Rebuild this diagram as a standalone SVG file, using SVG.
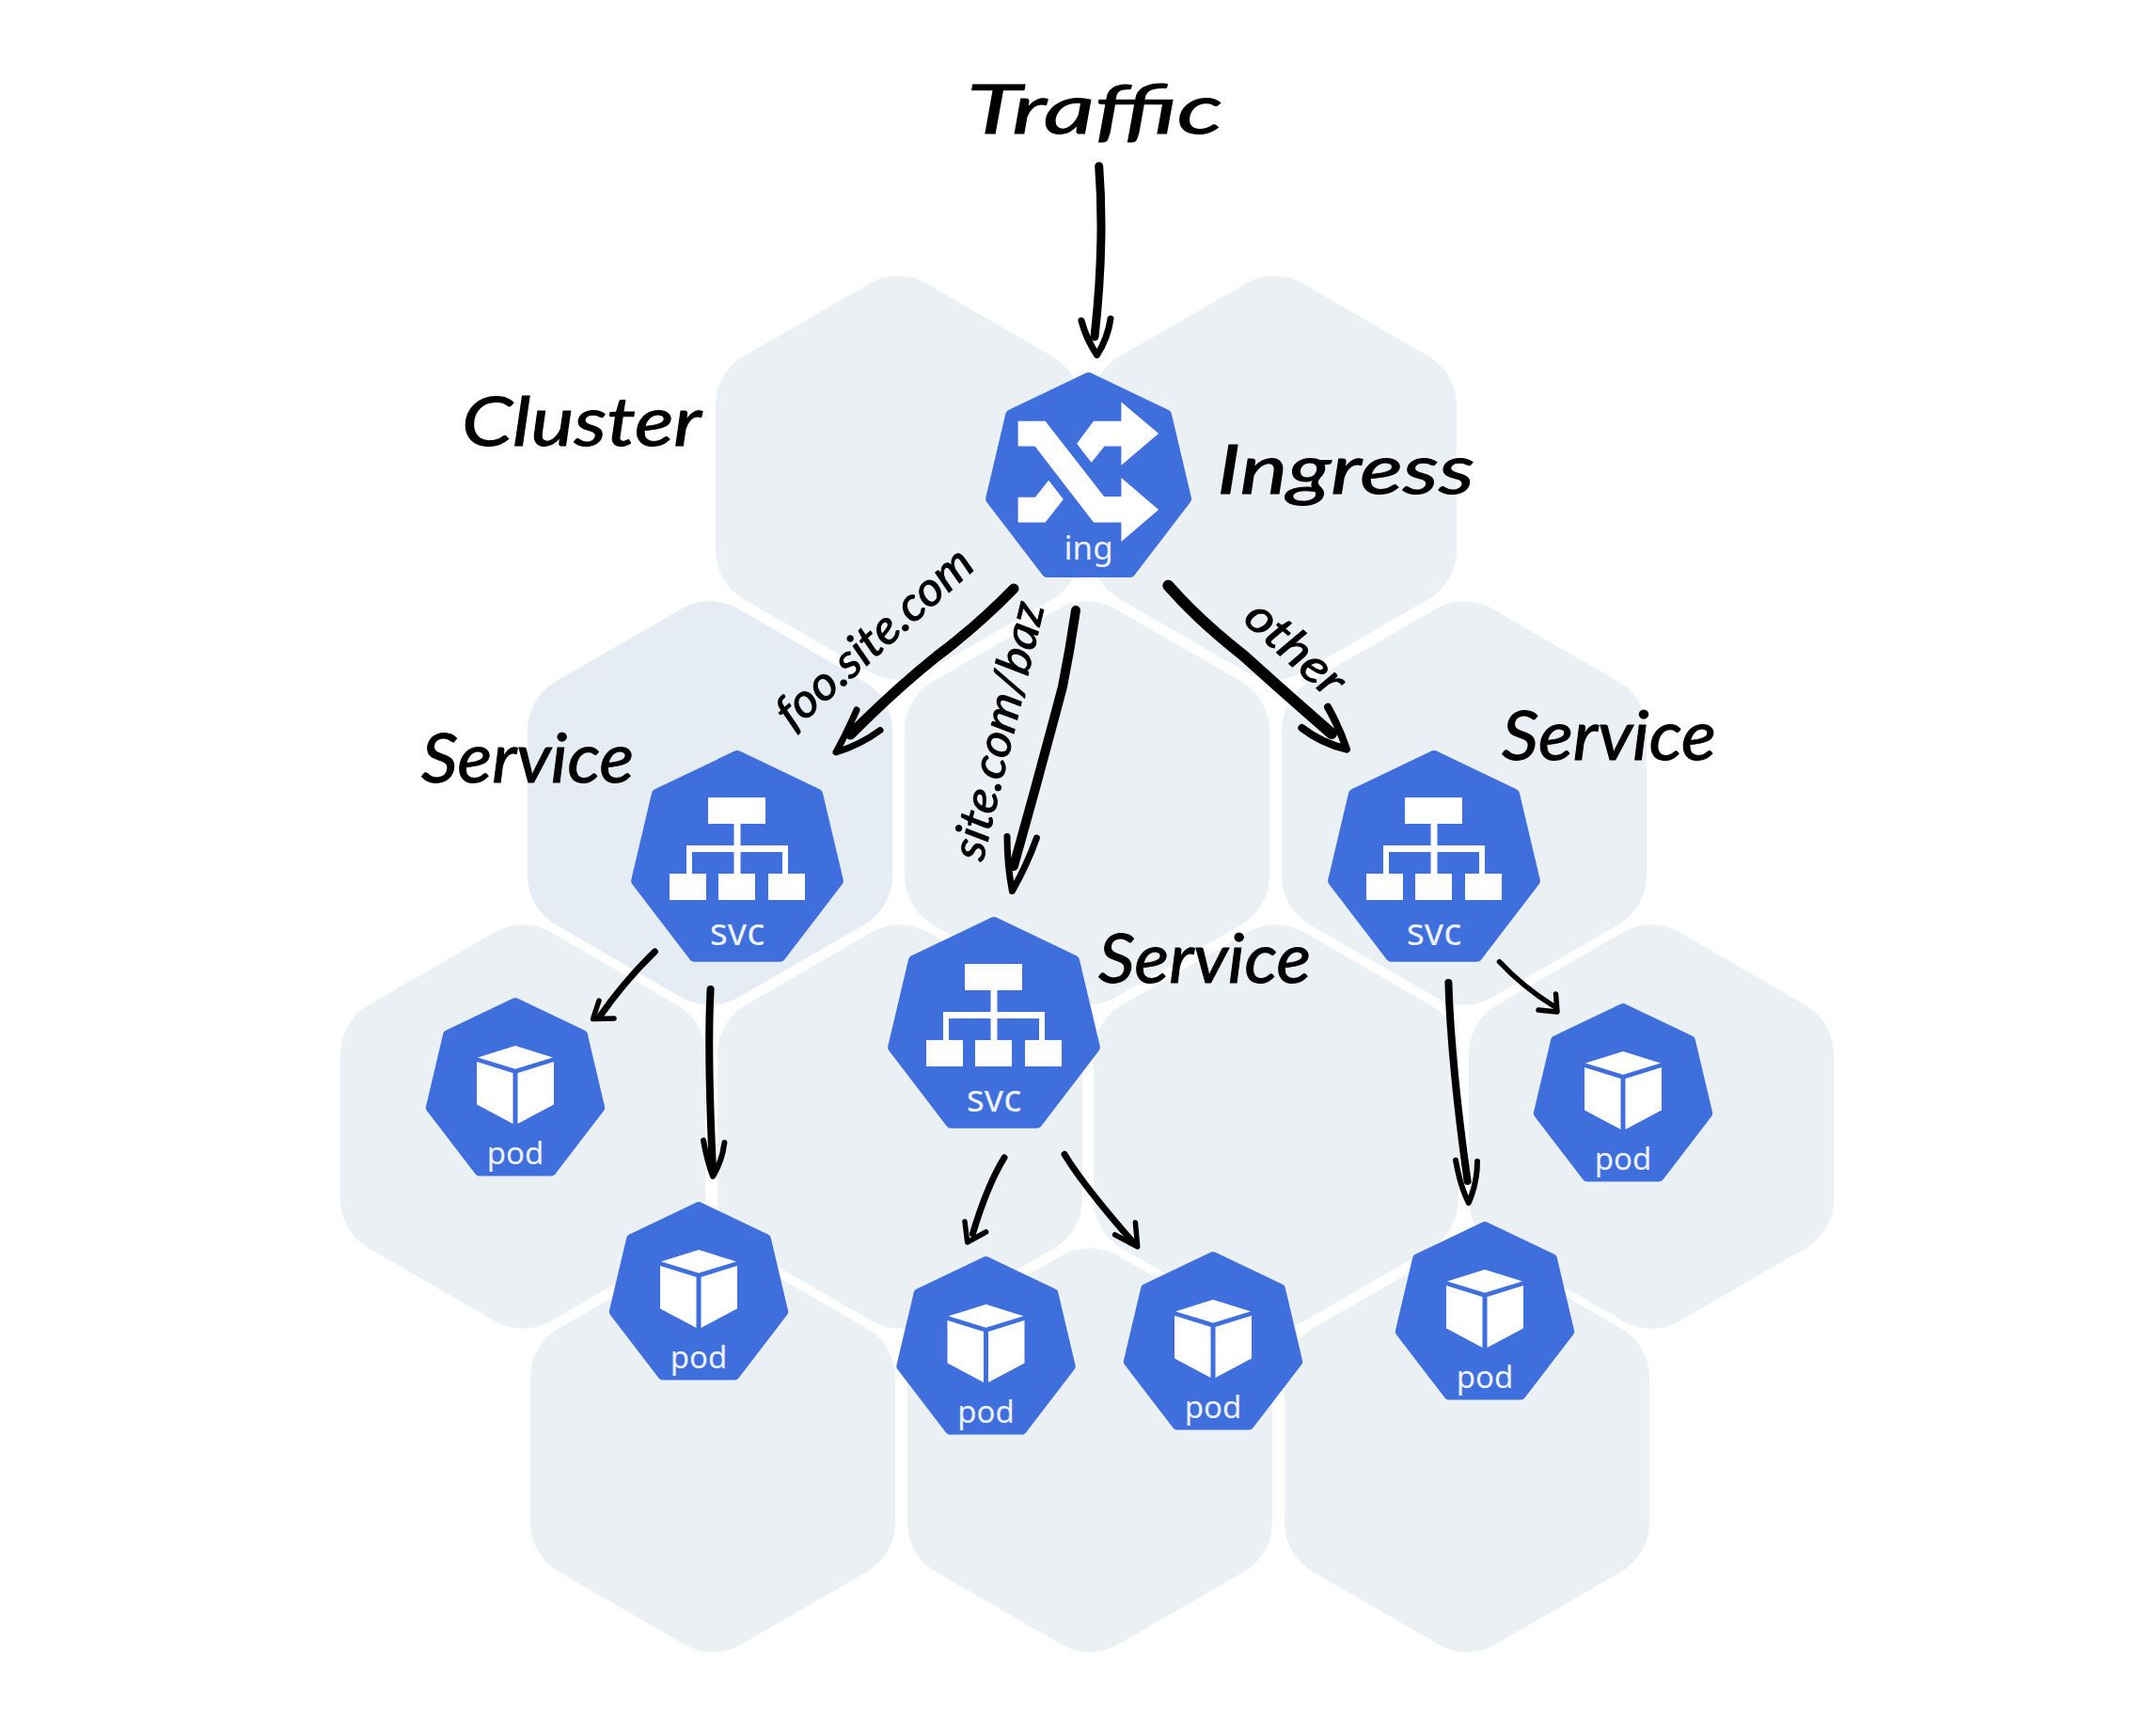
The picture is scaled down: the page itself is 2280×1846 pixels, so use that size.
<svg xmlns="http://www.w3.org/2000/svg" width="2280" height="1846" viewBox="0 0 2280 1846">
<style>
.hex{fill:#ebf0f5}
.hept{fill:#3f6edd;stroke:#3f6edd;stroke-width:12;stroke-linejoin:round}
.ico{fill:#fff}
.lbl{font-family:"Noto Sans",sans-serif;fill:#eef2fc;text-anchor:middle}
.svc{font-size:40px}
.pod{font-size:33px}
.hand{font-family:"Lato","Liberation Sans",sans-serif;font-style:italic;font-weight:400;fill:#000;stroke:#000;stroke-width:1}
.conn path{fill:none;stroke:#000;stroke-linecap:round;stroke-linejoin:round}
.a{stroke-width:9}.b{stroke-width:7}.c{stroke-width:5.500}
</style>
<defs>
<path id="hx" d="M30.300-206.500A60 60 0 0 0-30.300-206.500L-163.700-129.500A60 60 0 0 0-194-77V77A60 60 0 0 0-163.700 129.500L-30.300 206.500A60 60 0 0 0 30.300 206.500L163.700 129.500A60 60 0 0 0 194 77V-77A60 60 0 0 0 163.700-129.500Z"/>
<polygon id="hp" points="0,6 86,47 108,140 46,221 -46,221 -108,140 -86,47"/>
<g id="svcicon">
<rect x="-31" y="50" width="61" height="28"/>
<rect x="-3.500" y="78" width="7" height="53"/>
<path d="M-54 131V101H54V131H48V108H-48V131Z"/>
<rect x="-72" y="131" width="39" height="28"/><rect x="-20" y="131" width="39" height="28"/><rect x="33" y="131" width="39" height="28"/>
</g>
<g id="podicon">
<polygon points="0,51 40,63.500 0,75.700 -40,63.500"/>
<polygon points="-41,68 -2.500,80 -2.500,134 -41,113.500"/>
<polygon points="41,68 2.500,80 2.500,134 41,113.500"/>
</g>
</defs>
<rect width="2280" height="1846" fill="#fff"/>
<g id="cluster">
<use href="#hx" class="hex" x="955" y="508"/>
<use href="#hx" class="hex" x="1355" y="508"/>
<use href="#hx" style="fill:#e5ecf3" x="755" y="854"/>
<use href="#hx" class="hex" x="1156" y="854"/>
<use href="#hx" class="hex" x="1557" y="854"/>
<use href="#hx" class="hex" x="556" y="1198"/>
<use href="#hx" class="hex" x="957" y="1198"/>
<use href="#hx" class="hex" x="1357" y="1198"/>
<use href="#hx" class="hex" x="1756" y="1198"/>
<use href="#hx" class="hex" x="758" y="1542"/>
<use href="#hx" class="hex" x="1159" y="1542"/>
<use href="#hx" class="hex" x="1560" y="1542"/>
</g>
<g id="ingress" transform="translate(1157.600 396)">
<use href="#hp" class="hept" transform="scale(.96)"/>
<polygon class="ico" points="-75,51.700 -46,51.700 16.500,132 34.800,132 34.800,112 74.500,146 34.800,180 34.800,159.600 5.400,159.600 -57,78.500 -75,78.500"/>
<polygon class="ico" points="-12.500,75.800 5.400,51.700 34.800,51.700 34.800,31.400 74.500,65 34.800,98.700 34.800,78.500 17,78.500 3,95.700"/>
<polygon class="ico" points="-75,132.800 -56.700,132.800 -42.400,114.800 -26.800,135 -46,159.600 -75,159.600"/>
<text class="lbl" x="0" y="199" font-size="35">ing</text>
</g>
<g id="service-1" transform="translate(784 798)"><use href="#hp" class="hept" transform="scale(.99)"/><use href="#svcicon" class="ico"/><text class="lbl svc" y="207">svc</text></g>
<g id="service-2" transform="translate(1057 975)"><use href="#hp" class="hept" transform="scale(.99)"/><use href="#svcicon" class="ico"/><text class="lbl svc" y="207">svc</text></g>
<g id="service-3" transform="translate(1525 798)"><use href="#hp" class="hept" transform="scale(.99)"/><use href="#svcicon" class="ico"/><text class="lbl svc" y="207">svc</text></g>
<g id="pod-1" transform="translate(548 1061)"><use href="#hp" class="hept" transform="scale(.835)"/><use href="#podicon" class="ico"/><text class="lbl pod" y="177">pod</text></g>
<g id="pod-2" transform="translate(743 1278)"><use href="#hp" class="hept" transform="scale(.835)"/><use href="#podicon" class="ico"/><text class="lbl pod" y="177">pod</text></g>
<g id="pod-3" transform="translate(1048.500 1336)"><use href="#hp" class="hept" transform="scale(.835)"/><use href="#podicon" class="ico"/><text class="lbl pod" y="177">pod</text></g>
<g id="pod-4" transform="translate(1290 1331)"><use href="#hp" class="hept" transform="scale(.835)"/><use href="#podicon" class="ico"/><text class="lbl pod" y="177">pod</text></g>
<g id="pod-5" transform="translate(1579 1299)"><use href="#hp" class="hept" transform="scale(.835)"/><use href="#podicon" class="ico"/><text class="lbl pod" y="177">pod</text></g>
<g id="pod-6" transform="translate(1726 1067)"><use href="#hp" class="hept" transform="scale(.835)"/><use href="#podicon" class="ico"/><text class="lbl pod" y="177">pod</text></g>
<g id="connectors" class="conn">
<path class="a" d="M1168.700 176.700Q1175 260 1164 358"/><path class="b" d="M1150 341Q1155 360 1166.500 377.600Q1178 360 1181 339"/>
<path class="a" style="stroke-width:11" d="M1078 626Q1040 665 996 698Q950 735 904.500 781"/><path class="b" d="M911 755Q900 780 889 800Q915 792 936 776.500"/>
<path class="a" style="stroke-width:10" d="M1144 649Q1138 690 1130 730Q1105 825 1078 921"/><path class="b" d="M1071 889.500Q1071 920 1076.400 947.500Q1092 920 1102.400 891"/>
<path class="a" style="stroke-width:12" d="M1242.400 622.700Q1275 660 1322 696.700Q1370 740 1416 780"/><path class="b" style="stroke-width:8" d="M1412 751.700Q1425 775 1432 796.700Q1405 790 1384.400 774"/>
<path class="b" d="M696.400 1012Q665 1042 637 1082"/><path class="c" d="M637 1064L630.600 1083.600L653 1083"/>
<path class="b" style="stroke-width:8" d="M755.600 1052Q752 1118 758 1243"/><path class="c" style="stroke-width:6" d="M748 1212.600Q752 1235 758 1251Q768 1235 770.400 1215"/>
<path class="b" d="M1068 1231Q1050 1260 1034.400 1312"/><path class="c" d="M1026 1299L1028.700 1321L1048.600 1310"/>
<path class="b" d="M1132 1227.500Q1153 1262 1206.700 1323"/><path class="c" d="M1185.600 1313L1209.700 1325.700L1207.400 1300"/>
<path class="b" style="stroke-width:8" d="M1540.400 1045Q1543 1130 1560.600 1256"/><path class="c" style="stroke-width:6" d="M1548 1233.700Q1553 1262 1561.800 1279Q1571 1258 1571 1235"/>
<path class="c" d="M1594.500 1022.700Q1620 1050 1652.500 1070"/><path class="c" d="M1636 1074L1656 1076L1654.500 1057"/>
</g>
<g id="labels">
<text class="hand" x="1028" y="142" font-size="72" textLength="272" lengthAdjust="spacingAndGlyphs">Traffic</text>
<text class="hand" x="1294" y="525" font-size="72" textLength="274" lengthAdjust="spacingAndGlyphs">Ingress</text>
<text class="hand" x="491" y="474" font-size="72" textLength="255" lengthAdjust="spacingAndGlyphs">Cluster</text>
<text class="hand" x="448" y="832" font-size="72" textLength="226" lengthAdjust="spacingAndGlyphs">Service</text>
<text class="hand" x="1168" y="1045" font-size="72" textLength="226" lengthAdjust="spacingAndGlyphs">Service</text>
<text class="hand" x="1597" y="808" font-size="72" textLength="228" lengthAdjust="spacingAndGlyphs">Service</text>
<text class="hand" font-size="50" textLength="262" lengthAdjust="spacingAndGlyphs" transform="translate(843 778) rotate(-41.700)">foo.site.com</text>
<text class="hand" font-size="50" textLength="280" lengthAdjust="spacingAndGlyphs" transform="translate(1045 917) rotate(-76.400)">site.com/baz</text>
<text class="hand" font-size="50" textLength="125" lengthAdjust="spacingAndGlyphs" transform="translate(1320 660) rotate(42)">other</text>
</g>
</svg>
